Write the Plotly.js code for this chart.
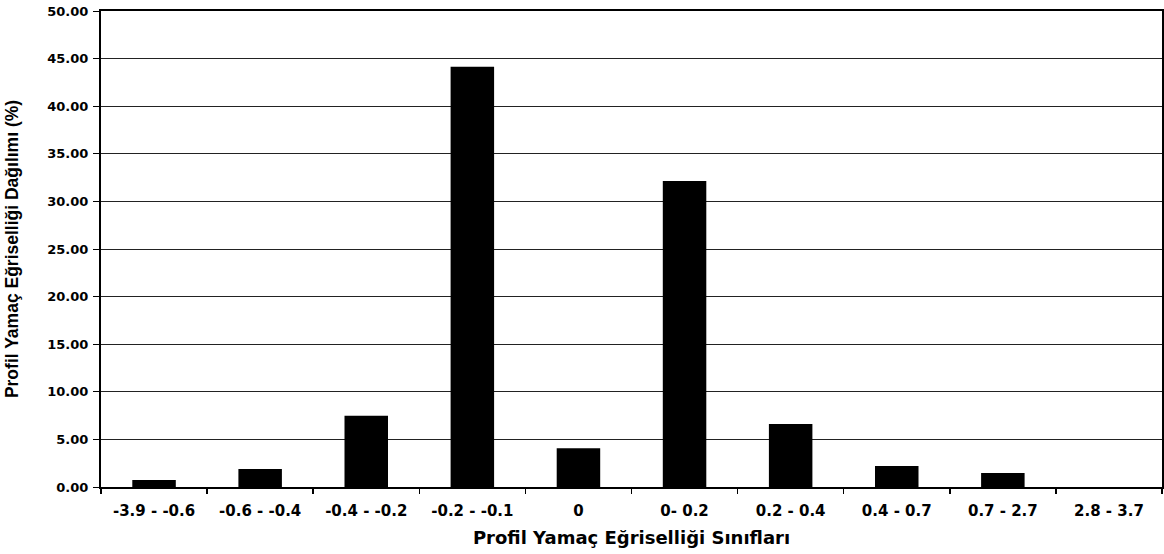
<!DOCTYPE html>
<html>
<head>
<meta charset="utf-8">
<script src="https://cdn.plot.ly/plotly-3.0.1.min.js"></script>
<style>
  html, body { margin: 0; padding: 0; background: #fff; }
  #chart { width: 1164px; height: 554px; }
</style>
</head>
<body>
<div id="chart"></div>
<script>
// Profile curvature classes and their share of the area (%)
const classes = ['-3.9 - -0.6', '-0.6 - -0.4', '-0.4 - -0.2', '-0.2 - -0.1', '0',
                 '0- 0.2', '0.2 - 0.4', '0.4 - 0.7', '0.7 - 2.7', '2.8 - 3.7'];
const shares = [0.74, 1.89, 7.49, 44.15, 4.06, 32.14, 6.62, 2.2, 1.47, 0];

const yTicks = [0, 5, 10, 15, 20, 25, 30, 35, 40, 45, 50];

const wideFont = 'DejaVu Sans, Verdana, sans-serif';
const plainFont = 'Liberation Sans, Arial, sans-serif';

const trace = {
  type: 'bar',
  x: classes,
  y: shares,
  marker: { color: '#000', line: { color: '#000', width: 0 } },
  hoverinfo: 'x+y'
};

const layout = {
  width: 1164,
  height: 554,
  margin: { l: 101, r: 2, t: 11, b: 67 },
  paper_bgcolor: '#fff',
  plot_bgcolor: '#fff',
  bargap: 0.59,
  showlegend: false,
  font: { family: plainFont, color: '#000' },
  xaxis: {
    type: 'category',
    tickson: 'boundaries',
    ticks: 'outside',
    ticklen: 5,
    tickwidth: 1.5,
    tickcolor: '#000',
    ticklabelstandoff: 9,
    showline: true,
    linecolor: '#000',
    linewidth: 2,
    mirror: true,
    showgrid: false,
    tickfont: { family: wideFont, size: 15, color: '#000', weight: 'bold' },
    title: {
      text: 'Profil Yamaç Eğriselliği Sınıfları',
      font: { family: wideFont, size: 18, color: '#000', weight: 'bold' },
      standoff: 12
    }
  },
  yaxis: {
    range: [0, 50],
    tickvals: yTicks,
    tickformat: '.2f',
    ticks: 'outside',
    ticklen: 6,
    tickwidth: 1,
    tickcolor: '#000',
    ticklabelstandoff: 2,
    showline: true,
    linecolor: '#000',
    linewidth: 2,
    mirror: true,
    showgrid: true,
    gridcolor: '#222',
    gridwidth: 1,
    zeroline: false,
    tickfont: { family: wideFont, size: 13, color: '#000', weight: 'bold' },
    title: {
      text: 'Profil Yamaç Eğriselliği Dağılımı (%)',
      font: { family: plainFont, size: 17.5, color: '#000', weight: 'bold' },
      standoff: 24
    }
  }
};

Plotly.newPlot('chart', [trace], layout, { displayModeBar: false, staticPlot: true });
</script>
</body>
</html>
